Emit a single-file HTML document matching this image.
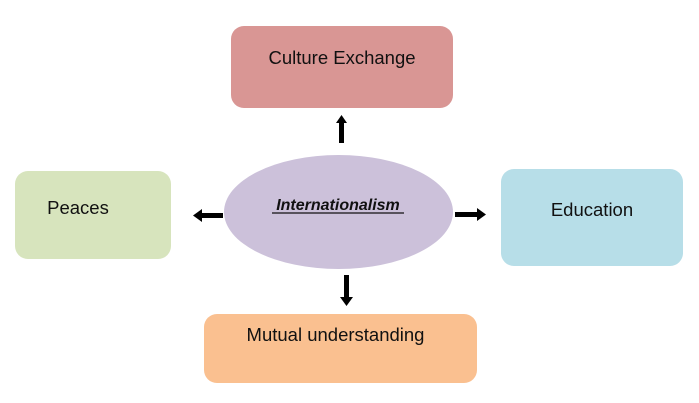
<!DOCTYPE html>
<html><head><style>
body{margin:0;width:699px;height:403px;background:#fff;overflow:hidden;position:relative;font-family:"Liberation Sans",sans-serif}
.b{position:absolute;border-radius:13px;display:flex;justify-content:center;font-size:18.5px;color:#111}
</style></head><body>
<div class="b" style="left:231px;top:26px;width:222px;height:82px;background:#d99694;align-items:flex-start"><span style="margin-top:21px">Culture Exchange</span></div>
<div class="b" style="left:15px;top:171px;width:156px;height:88px;background:#d7e4bd;"><span style="margin-top:26px;margin-left:-30px">Peaces</span></div>
<div class="b" style="left:501px;top:169px;width:182px;height:97px;background:#b7dee8;"><span style="margin-top:30px">Education</span></div>
<div class="b" style="left:204px;top:314px;width:273px;height:69px;background:#fac090;"><span style="margin-top:10px;margin-left:-10px">Mutual understanding</span></div>
<svg width="699" height="403" style="position:absolute;left:0;top:0">
<ellipse cx="338.5" cy="212" rx="114.5" ry="57" fill="#ccc1da"/>
<text x="338" y="210" text-anchor="middle" font-family="Liberation Sans" font-size="16" font-weight="bold" font-style="italic" fill="#111">Internationalism</text>
<line x1="272" y1="213" x2="404" y2="213" stroke="#111" stroke-width="1.2"/>
<g fill="#000">
<rect x="339" y="122" width="5" height="21"/><polygon points="336,123 347,123 341.5,115"/>
<rect x="344" y="275" width="5" height="23"/><polygon points="340,297 353,297 346.5,306"/>
<rect x="201" y="213" width="22" height="5"/><polygon points="202,209 202,222 193,215.5"/>
<rect x="455" y="212" width="23" height="5"/><polygon points="477,208 477,221 486,214.5"/>
</g>
</svg>
</body></html>
